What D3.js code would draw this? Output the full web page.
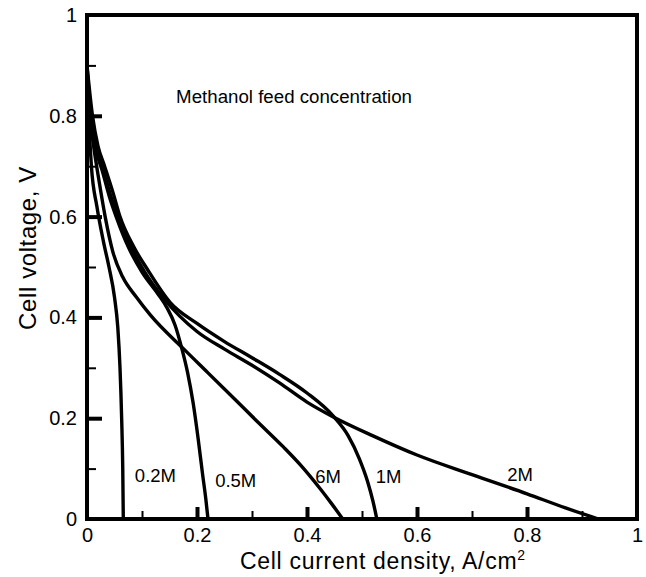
<!DOCTYPE html>
<html>
<head>
<meta charset="utf-8">
<script src="https://cdn.jsdelivr.net/npm/d3@7"></script>
<style>
  html, body { margin: 0; padding: 0; background: #fff; }
  svg { display: block; font-family: "Liberation Sans", Arial, Helvetica, sans-serif; }
</style>
</head>
<body>
<svg id="chart" width="646" height="577"></svg>
<script>
// Polarization curves of a direct methanol fuel cell at several feed concentrations.
// Each series: [current density (A/cm^2), cell voltage (V)]
const curve02M = [[0,0.9],[0.003,0.8],[0.008,0.7],[0.018,0.62],[0.03,0.55],[0.04,0.5],[0.05,0.44],[0.056,0.38],[0.06,0.3],[0.063,0.2],[0.065,0.1],[0.066,0]];
const curve05M = [[0,0.9],[0.007,0.8],[0.017,0.73],[0.028,0.69],[0.042,0.635],[0.053,0.6],[0.075,0.54],[0.1,0.49],[0.13,0.445],[0.145,0.42],[0.16,0.385],[0.172,0.34],[0.183,0.29],[0.193,0.23],[0.202,0.16],[0.21,0.09],[0.216,0.04],[0.22,0]];
const curve1M = [[0,0.9],[0.01,0.8],[0.02,0.74],[0.032,0.7],[0.048,0.645],[0.06,0.6],[0.085,0.54],[0.11,0.495],[0.151,0.43],[0.2,0.388],[0.25,0.352],[0.3,0.32],[0.35,0.287],[0.40,0.25],[0.447,0.205],[0.475,0.165],[0.495,0.12],[0.51,0.075],[0.52,0.035],[0.527,0]];
const curve2M = [[0,0.89],[0.008,0.79],[0.018,0.73],[0.03,0.69],[0.045,0.635],[0.057,0.6],[0.08,0.54],[0.105,0.49],[0.14,0.437],[0.2,0.372],[0.25,0.337],[0.3,0.305],[0.35,0.27],[0.40,0.232],[0.447,0.203],[0.52,0.165],[0.6,0.127],[0.7,0.088],[0.8,0.05],[0.87,0.022],[0.93,0]];
const curve6M = [[0,0.88],[0.005,0.8],[0.012,0.74],[0.022,0.67],[0.033,0.6],[0.047,0.53],[0.065,0.48],[0.09,0.44],[0.115,0.405],[0.178,0.335],[0.22,0.29],[0.26,0.247],[0.31,0.193],[0.357,0.143],[0.39,0.105],[0.424,0.06],[0.445,0.03],[0.465,0]];

const seriesNames = ["0.2M", "0.5M", "1M", "2M", "6M"];
const seriesData = [curve02M, curve05M, curve1M, curve2M, curve6M];
// label anchor for each series name, in data units (current, voltage)
const labelAnchors = [[0.087,0.073],[0.233,0.063],[0.525,0.071],[0.764,0.075],[0.415,0.071]];

const xMajorTicks = [0, 0.2, 0.4, 0.6, 0.8, 1];
const xMinorTicks = [0.1, 0.3, 0.5, 0.7, 0.9];
const yMajorTicks = [0, 0.2, 0.4, 0.6, 0.8, 1];
const yMinorTicks = [0.1, 0.3, 0.5, 0.7, 0.9];
const xTickLabels = ["0", "0.2", "0.4", "0.6", "0.8", "1"];
const yTickLabels = ["0", "0.2", "0.4", "0.6", "0.8", "1"];

const svg = d3.select("#chart");
const plot = { left: 87, right: 637, top: 15, bottom: 519 };

const x = d3.scaleLinear().domain([0, 1]).range([plot.left, plot.right]);
const y = d3.scaleLinear().domain([0, 1]).range([plot.bottom, plot.top]);

// curves
const line = d3.line()
  .x(d => x(d[0]))
  .y(d => y(d[1]))
  .curve(d3.curveMonotoneX);

svg.append("g").selectAll("path")
  .data(seriesData)
  .join("path")
  .attr("d", line)
  .attr("fill", "none")
  .attr("stroke", "#000")
  .attr("stroke-width", 3.4)
  .attr("stroke-linejoin", "round");

// inward ticks on the bottom axis
const xAxisMajor = d3.axisBottom(x).tickValues(xMajorTicks)
  .tickFormat((d, i) => xTickLabels[i]).tickSizeInner(-12).tickPadding(9).tickSizeOuter(0);
const gx = svg.append("g").attr("transform", `translate(0,${plot.bottom})`).call(xAxisMajor);
gx.select(".domain").remove();
gx.selectAll(".tick line").attr("stroke", "#000").attr("stroke-width", 4);
gx.selectAll(".tick text").attr("font-size", 20).attr("fill", "#000").attr("font-family", null);
gx.selectAll(".tick").filter(d => d === 0 || d === 1).select("line").remove();

const gxm = svg.append("g").attr("transform", `translate(0,${plot.bottom})`)
  .call(d3.axisBottom(x).tickValues(xMinorTicks).tickFormat("").tickSizeInner(-8).tickSizeOuter(0));
gxm.select(".domain").remove();
gxm.selectAll(".tick line").attr("stroke", "#000").attr("stroke-width", 2);

// inward ticks on the left axis
const yAxisMajor = d3.axisLeft(y).tickValues(yMajorTicks)
  .tickFormat((d, i) => yTickLabels[i]).tickSizeInner(-15).tickPadding(10).tickSizeOuter(0);
const gy = svg.append("g").attr("transform", `translate(${plot.left},0)`).call(yAxisMajor);
gy.select(".domain").remove();
gy.selectAll(".tick line").attr("stroke", "#000").attr("stroke-width", 4);
gy.selectAll(".tick text").attr("font-size", 20).attr("fill", "#000").attr("font-family", null);
gy.selectAll(".tick").filter(d => d === 0 || d === 1).select("line").remove();

const gym = svg.append("g").attr("transform", `translate(${plot.left},0)`)
  .call(d3.axisLeft(y).tickValues(yMinorTicks).tickFormat("").tickSizeInner(-9).tickSizeOuter(0));
gym.select(".domain").remove();
gym.selectAll(".tick line").attr("stroke", "#000").attr("stroke-width", 2);

// frame
svg.append("rect")
  .attr("x", plot.left).attr("y", plot.top)
  .attr("width", plot.right - plot.left).attr("height", plot.bottom - plot.top)
  .attr("fill", "none").attr("stroke", "#000").attr("stroke-width", 4);

// series labels
svg.append("g").selectAll("text")
  .data(seriesNames)
  .join("text")
  .attr("x", (d, i) => x(labelAnchors[i][0]))
  .attr("y", (d, i) => y(labelAnchors[i][1]))
  .attr("font-size", 18.5)
  .text(d => d);

// annotation
svg.append("text")
  .attr("x", x(0.162)).attr("y", y(0.825))
  .attr("font-size", 18.7)
  .text("Methanol feed concentration");

// axis titles
const xTitle = svg.append("text")
  .attr("x", 240).attr("y", 569)
  .attr("font-size", 23)
  .attr("letter-spacing", 0.7);
xTitle.append("tspan").text("Cell current density, A/cm");
xTitle.append("tspan").attr("font-size", 14).attr("dy", -9).text("2");

svg.append("text")
  .attr("transform", `translate(36,248) rotate(-90)`)
  .attr("text-anchor", "middle")
  .attr("font-size", 24)
  .attr("letter-spacing", 0.6)
  .text("Cell voltage, V");
</script>
</body>
</html>
